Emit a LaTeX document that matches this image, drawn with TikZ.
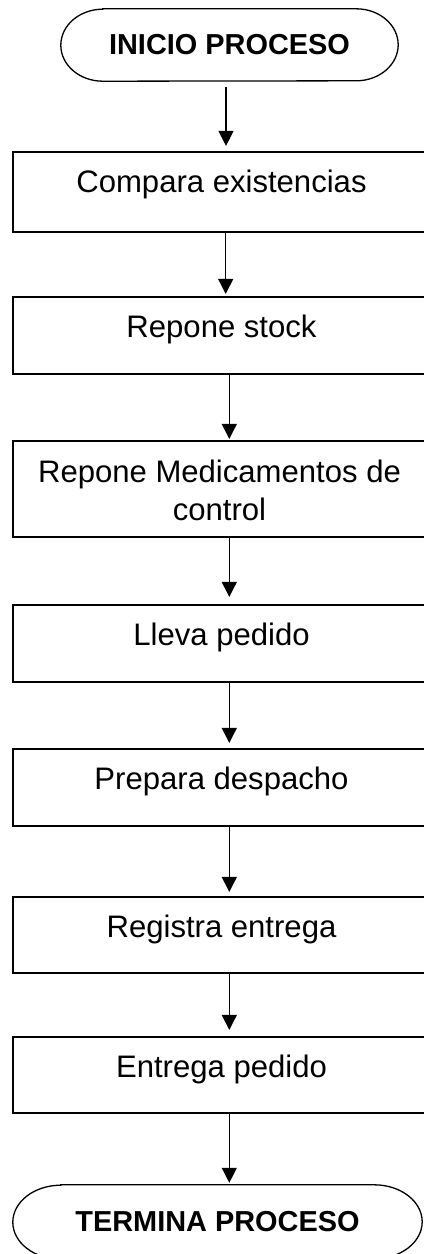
\documentclass[tikz,border=0pt]{standalone}
\usepackage{fontspec}
\setmainfont{Liberation Sans}
\usetikzlibrary{arrows.meta}
\tikzset{
  procbox/.style={draw, line width=2.2bp, minimum width=417bp, inner sep=0pt},
  boxtext/.style={anchor=base, font=\fontsize{31.2}{39}\selectfont, align=center, inner sep=0pt},
  termnode/.style={inner sep=0pt, font=\bfseries\fontsize{29}{34}\selectfont},
  flow/.style={line width=1.3bp, -{Triangle[length=15bp,width=15bp]}},
  termline/.style={line width=1.3bp}
}
\begin{document}
\begin{tikzpicture}[x=1bp,y=1bp]
\useasboundingbox (0,0) rectangle (423,-1254);
% start terminal
\node[termnode, minimum width=337bp, minimum height=72bp] (s) at (229.5,-45) {INICIO PROCESO};
\draw[termline] ([xshift=42bp]s.north west) -- ([xshift=-42bp]s.north east)
  arc[start angle=90, end angle=-90, x radius=42bp, y radius=36bp]
  -- ([xshift=42bp]s.south west)
  arc[start angle=270, end angle=90, x radius=42bp, y radius=36bp] -- cycle;
% process boxes
\node[procbox, minimum height=80bp] (b1) at (221.5,-192) {};
\node[procbox, minimum height=77bp] (b2) at (221.5,-335.5) {};
\node[procbox, minimum height=96bp] (b3) at (221.5,-489) {};
\node[procbox, minimum height=77bp] (b4) at (221.5,-643.5) {};
\node[procbox, minimum height=77bp] (b5) at (221.5,-787.5) {};
\node[procbox, minimum height=76bp] (b6) at (221.5,-935) {};
\node[procbox, minimum height=76bp] (b7) at (221.5,-1075) {};
\node[boxtext] (t1) at ([yshift=-42bp]b1.north) {Compara existencias};
\node[boxtext] (t2) at ([yshift=-42bp]b2.north) {Repone stock};
\node[boxtext] (t3) at ([xshift=-2bp,yshift=-81bp]b3.north) {Repone Medicamentos de\\control};
\node[boxtext] (t4) at ([yshift=-42bp]b4.north) {Lleva pedido};
\node[boxtext] (t5) at ([yshift=-42bp]b5.north) {Prepara despacho};
\node[boxtext] (t6) at ([yshift=-42bp]b6.north) {Registra entrega};
\node[boxtext] (t7) at ([yshift=-42bp]b7.north) {Entrega pedido};
% end terminal
\node[termnode, minimum width=409bp, minimum height=74bp] (e) at (217.5,-1222) {TERMINA PROCESO};
\draw[termline] ([xshift=48bp]e.north west) -- ([xshift=-48bp]e.north east)
  arc[start angle=90, end angle=-90, x radius=48bp, y radius=37bp]
  -- ([xshift=48bp]e.south west)
  arc[start angle=270, end angle=90, x radius=48bp, y radius=37bp] -- cycle;
% connectors
\draw[flow, shorten <=6bp, shorten >=5bp] ([xshift=-3.5bp]s.south) -- ([xshift=-3.5bp]s.south |- b1.north);
\draw[flow, shorten >=2bp] ([xshift=4.2bp]b1.south) -- ([xshift=4.2bp]b1.south |- b2.north);
\draw[flow, shorten >=1bp] ([xshift=7.8bp]b2.south) -- ([xshift=7.8bp]b2.south |- b3.north);
\draw[flow, shorten >=7bp] ([xshift=7.8bp]b3.south) -- ([xshift=7.8bp]b3.south |- b4.north);
\draw[flow, shorten >=5bp] ([xshift=7.8bp]b4.south) -- ([xshift=7.8bp]b4.south |- b5.north);
\draw[flow, shorten >=4bp] ([xshift=7.8bp]b5.south) -- ([xshift=7.8bp]b5.south |- b6.north);
\draw[flow, shorten >=6bp] ([xshift=7.8bp]b6.south) -- ([xshift=7.8bp]b6.south |- b7.north);
\draw[flow, shorten >=2bp] ([xshift=7.8bp]b7.south) -- ([xshift=7.8bp]b7.south |- e.north);
\end{tikzpicture}
\end{document}
